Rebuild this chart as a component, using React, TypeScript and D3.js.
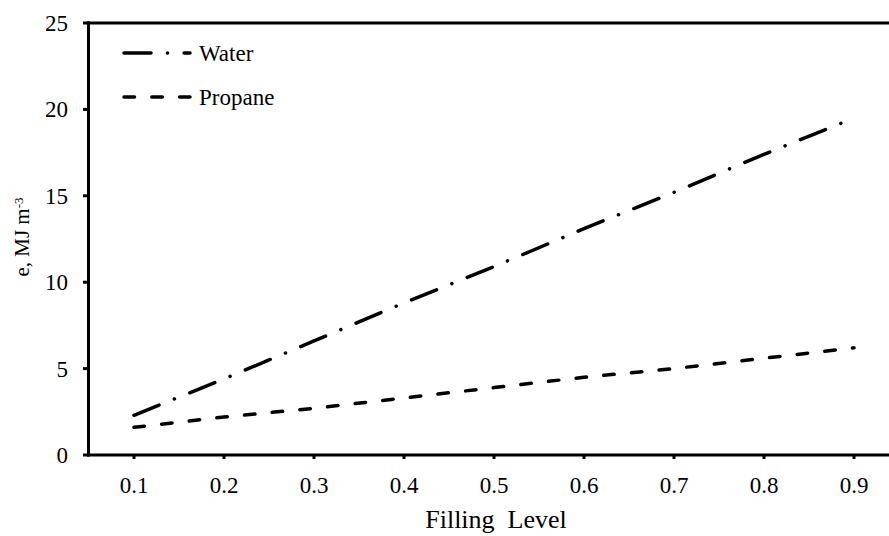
import { useEffect, useRef } from "react";
import * as d3 from "d3";

// values
const fillLevels = [0.1, 0.2, 0.3, 0.4, 0.5, 0.6, 0.7, 0.8, 0.9];
const waterValues = [2.3, 4.4, 6.6, 8.8, 10.9, 13.1, 15.2, 17.4, 19.5];
const propaneValues = [1.6, 2.2, 2.7, 3.3, 3.9, 4.5, 5.0, 5.6, 6.2];
const yTicks = [0, 5, 10, 15, 20, 25];
const seriesNames = ["Water", "Propane"];

export default function App() {
    const svgRef = useRef<SVGSVGElement>(null);
    const width = 889;
    const height = 536;

    useEffect(() => {
        const svg = d3.select(svgRef.current);
        svg.selectAll("*").remove();

        const x = d3.scaleLinear().domain([0.05, 0.95]).range([89, 899]);
        const y = d3.scaleLinear().domain([0, 25]).range([455, 23]);

        const series = [
            { name: seriesNames[0], values: waterValues, dash: "27 16.5 0.1 16.5" },
            { name: seriesNames[1], values: propaneValues, dash: "10.5 17.3" },
        ];

        // frame: left axis, bottom axis, top border
        const frame = svg.append("g").attr("stroke", "#000").attr("stroke-width", 3);
        frame.append("line").attr("x1", x(0.05) - 0.5).attr("x2", x(0.05) - 0.5)
            .attr("y1", y(25) - 1.5).attr("y2", y(0) + 1.5);
        frame.append("line").attr("x1", x(0.05) - 2).attr("x2", x(0.95))
            .attr("y1", y(0)).attr("y2", y(0));
        frame.append("line").attr("x1", x(0.05) - 2).attr("x2", x(0.95))
            .attr("y1", y(25)).attr("y2", y(25));

        // y ticks
        const yg = svg.append("g");
        yg.selectAll("line").data(yTicks).enter().append("line")
            .attr("x1", x(0.05) - 6).attr("x2", x(0.05))
            .attr("y1", (d) => y(d)).attr("y2", (d) => y(d))
            .attr("stroke", "#000").attr("stroke-width", 3);
        yg.selectAll("text").data(yTicks).enter().append("text")
            .attr("x", 68).attr("y", (d) => y(d)).attr("dy", "0.35em")
            .attr("text-anchor", "end")
            .attr("font-size", 23)
            .text((d) => d);

        // x ticks
        const xg = svg.append("g");
        xg.selectAll("line").data(fillLevels).enter().append("line")
            .attr("x1", (d) => x(d)).attr("x2", (d) => x(d))
            .attr("y1", y(0)).attr("y2", y(0) + 4)
            .attr("stroke", "#000").attr("stroke-width", 3);
        xg.selectAll("text").data(fillLevels).enter().append("text")
            .attr("x", (d) => x(d)).attr("y", 493)
            .attr("text-anchor", "middle")
            .attr("font-size", 23)
            .text((d) => d3.format(".1f")(d));

        // lines
        const line = d3.line<number>()
            .x((_, i) => x(fillLevels[i]))
            .y((d) => y(d));

        series.forEach((s) => {
            svg.append("path")
                .attr("d", line(s.values))
                .attr("fill", "none")
                .attr("stroke", "#000")
                .attr("stroke-width", 3.5)
                .attr("stroke-linecap", "round")
                .attr("stroke-dasharray", s.dash);
        });

        // legend
        const legend = svg.append("g");
        series.forEach((s, i) => {
            const ly = 53 + i * 44;
            legend.append("line")
                .attr("x1", 124).attr("x2", 190).attr("y1", ly).attr("y2", ly)
                .attr("stroke", "#000").attr("stroke-width", 3.5)
                .attr("stroke-linecap", "round")
                .attr("stroke-dasharray", s.dash);
            legend.append("text")
                .attr("x", 199).attr("y", ly + 8)
                .attr("font-size", 23)
                .text(s.name);
        });

        // axis titles
        svg.append("text")
            .attr("x", 496).attr("y", 528)
            .attr("text-anchor", "middle")
            .attr("font-size", 26)
            .style("white-space", "pre")
            .text("Filling  Level");

        const yTitle = svg.append("text")
            .attr("transform", "translate(29,237) rotate(-90)")
            .attr("text-anchor", "middle")
            .attr("font-size", 21);
        yTitle.append("tspan").text("e, MJ m");
        yTitle.append("tspan").attr("dy", "-0.45em").attr("font-size", 13).text("-3");
    }, []);

    return (
        <svg
            ref={svgRef}
            width={width}
            height={height}
            fontFamily="Liberation Serif, Times New Roman, serif"
            style={{ position: "absolute", left: 0, top: 0, background: "#fff" }}
        ></svg>
    );
}
